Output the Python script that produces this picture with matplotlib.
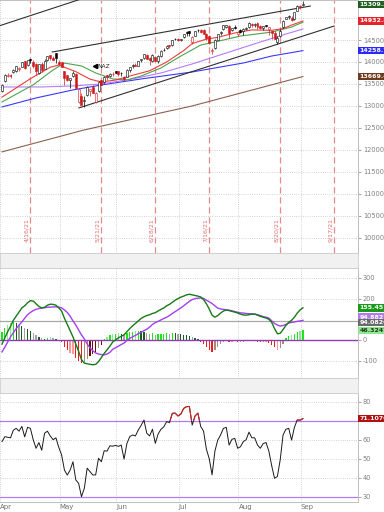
import numpy as np
import matplotlib.pyplot as plt
from matplotlib.patches import Rectangle
from matplotlib.transforms import blended_transform_factory

# daily bars, trading day index 0 = 4/1/21 ... 106 = 9/1/21
opens = [13340, 13560, 13690, 13690, 13780, 13800, 13850, 13890, 14020, 13930,
         14060, 14000, 13950, 13750, 13960, 13840, 14050, 14150, 14100, 14200,
         13990, 14000, 13800, 13700, 13580, 13680, 13730, 13100, 13220, 13110,
         13240, 13350, 13430, 13100, 13330, 13580, 13540, 13700, 13690, 13720,
         13790, 13790, 13750, 13650, 13660, 13810, 13910, 13940, 13920, 14040,
         14100, 14170, 14080, 14020, 14120, 14030, 14130, 14270, 14320, 14380,
         14380, 14520, 14510, 14500, 14560, 14680, 14700, 14450, 14600, 14730,
         14720, 14730, 14640, 14600, 14260, 14310, 14510, 14650, 14740, 14800,
         14820, 14730, 14780, 14630, 14730, 14700, 14760, 14790, 14860, 14840,
         14890, 14810, 14770, 14830, 14760, 14700, 14650, 14450, 14580, 14790,
         14980, 15020, 15010, 14980, 15160, 15270, 15290]
highs = [13490, 13720, 13760, 13730, 13830, 13900, 13890, 14000, 14030, 14040,
         14070, 14040, 13980, 13950, 14010, 14060, 14140, 14160, 14130, 14210,
         14050, 14010, 13800, 13710, 13640, 13790, 13740, 13400, 13290, 13230,
         13460, 13390, 13470, 13310, 13560, 13600, 13680, 13710, 13740, 13770,
         13800, 13790, 13780, 13680, 13830, 13890, 13950, 13970, 14030, 14070,
         14180, 14180, 14110, 14190, 14140, 14150, 14270, 14320, 14390, 14390,
         14510, 14540, 14540, 14530, 14640, 14700, 14700, 14600, 14710, 14740,
         14760, 14760, 14650, 14610, 14320, 14530, 14640, 14700, 14840, 14850,
         14830, 14780, 14830, 14700, 14760, 14770, 14800, 14900, 14880, 14880,
         14900, 14830, 14820, 14840, 14800, 14700, 14700, 14600, 14740, 14950,
         15030, 15060, 15050, 15140, 15290, 15290, 15380]
lows = [13320, 13540, 13660, 13640, 13740, 13770, 13790, 13880, 13850, 13920,
        13980, 13870, 13710, 13730, 13780, 13830, 14030, 14050, 14040, 13980,
        13950, 13880, 13480, 13560, 13400, 13660, 13400, 13060, 13020, 12973,
        13230, 13230, 13300, 13070, 13310, 13460, 13530, 13580, 13660, 13690,
        13740, 13690, 13690, 13570, 13650, 13770, 13860, 13900, 13900, 14000,
        14060, 14060, 13930, 14000, 14020, 13970, 14110, 14260, 14300, 14310,
        14370, 14490, 14480, 14470, 14540, 14580, 14600, 14420, 14590, 14680,
        14670, 14640, 14490, 14420, 14180, 14290, 14500, 14620, 14720, 14770,
        14540, 14700, 14750, 14590, 14660, 14610, 14730, 14780, 14800, 14800,
        14750, 14740, 14720, 14790, 14610, 14530, 14520, 14410, 14570, 14780,
        14970, 14980, 14940, 14960, 15160, 15210, 15280]
closes = [13480, 13706, 13698, 13689, 13829, 13900, 13850, 13996, 13858, 14039,
          14052, 13915, 13786, 13950, 13818, 14017, 14139, 14090, 14051, 14083,
          13963, 13895, 13634, 13582, 13633, 13752, 13402, 13389, 13032, 13125,
          13430, 13379, 13304, 13300, 13536, 13471, 13661, 13657, 13738, 13736,
          13749, 13736, 13756, 13615, 13814, 13882, 13925, 13912, 14020, 14069,
          14174, 14073, 14040, 14161, 14030, 14141, 14253, 14272, 14370, 14360,
          14501, 14528, 14504, 14522, 14639, 14664, 14665, 14560, 14702, 14733,
          14678, 14645, 14543, 14427, 14275, 14499, 14632, 14685, 14837, 14841,
          14661, 14763, 14778, 14673, 14681, 14761, 14781, 14895, 14836, 14860,
          14788, 14765, 14816, 14823, 14794, 14656, 14526, 14542, 14715, 14943,
          15020, 15042, 14946, 15130, 15266, 15259, 15309]

# moving averages: (day, value) knots
ma_red_x = [0, 10, 17, 20, 26, 31, 35, 40, 45, 52, 58, 64, 67, 72, 76, 82, 88, 95, 99, 102, 106]
ma_red_y = [13200, 13620, 13880, 13930, 13780, 13610, 13545, 13590, 13680, 13800, 14000,
            14260, 14420, 14520, 14560, 14660, 14730, 14720, 14760, 14840, 14932.8]
ma_green_x = [0, 11, 18, 22, 28, 33, 39, 44, 49, 56, 63, 70, 75, 84, 95, 102, 106]
ma_green_y = [13090, 13480, 13820, 13975, 13910, 13750, 13615, 13590, 13680, 13865, 14135,
              14385, 14455, 14590, 14680, 14795, 14905]
ma_purple_x = [0, 14, 25, 35, 46, 56, 67, 79, 91, 100, 106]
ma_purple_y = [13432, 13432, 13455, 13500, 13614, 13750, 13955, 14205, 14455, 14636, 14750]
ma_blue_x = [0, 12, 25, 35, 49, 67, 85, 95, 106]
ma_blue_y = [12977, 13182, 13364, 13477, 13614, 13773, 13977, 14136, 14258.7]
ma_brown_x = [0, 29, 67, 106]
ma_brown_y = [11955, 12455, 13000, 13669.4]

# drawn trendlines: (x0, y0, x1, y1)
trendlines = [(-2, 14800, 40, 15690),
              (17.7, 14227, 108.6, 15273),
              (27.1, 12955, 117, 14818)]

# option expiration markers
expiry_days = [10, 35, 54, 73, 98, 117]
expiry_labels = ['4/16/21', '5/21/21', '6/18/21', '7/16/21', '8/20/21', '9/17/21']

month_days = [-0.7, 20.3, 40.3, 62.3, 83.3, 105.3]
month_labels = ['Apr', 'May', 'Jun', 'Jul', 'Aug', 'Sep']

macd = [-20, 10, 40, 65, 95, 115, 135, 155, 165, 180,
        190, 188, 175, 162, 155, 158, 168, 173, 172, 168,
        155, 140, 105, 75, 45, 15, -20, -55, -95, -112,
        -115, -118, -120, -118, -105, -85, -65, -48, -30, -10,
        0, 10, 18, 25, 40, 55, 68, 80, 92, 104,
        112, 118, 122, 128, 132, 140, 148, 155, 165, 172,
        182, 192, 200, 207, 212, 218, 221, 218, 215, 212,
        208, 195, 175, 150, 120, 110, 118, 130, 140, 145,
        142, 138, 135, 130, 125, 121, 120, 122, 125, 125,
        120, 114, 110, 106, 100, 85, 55, 30, 32, 50,
        70, 85, 95, 110, 130, 145, 155.45]
signal = [-58, -35, -10, 15, 35, 55, 72, 87, 105, 122,
          133, 142, 148, 152, 154, 156, 158, 159, 160, 160,
          159, 155, 145, 133, 115, 92, 72, 48, 24, 5,
          -20, -38, -52, -63, -68, -71, -72, -68, -60, -45,
          -38, -30, -22, -15, -2, 8, 15, 22, 30, 37,
          45, 52, 62, 75, 84, 90, 97, 104, 110, 118,
          128, 137, 146, 155, 165, 176, 187, 195, 200, 202,
          203, 201, 192, 185, 176, 165, 154, 150, 148, 146,
          144, 141, 137, 134, 131, 130, 128, 127, 126, 125,
          122, 118, 113, 110, 106, 92, 80, 72, 67, 70,
          75, 82, 85, 87, 90, 92, 94.88]
hist = [40, 60, 72, 80, 85, 82, 72, 68, 60, 52,
        45, 35, 22, 12, 8, 6, 10, 12, 9, 5,
        -3, -12, -35, -50, -62, -70, -88, -100, -110, -108,
        -92, -80, -70, -58, -40, -22, 5, 15, 22, 28,
        30, 32, 30, 25, 32, 38, 40, 42, 43, 42,
        40, 35, 30, 32, 25, 28, 30, 30, 32, 30,
        33, 32, 30, 28, 26, 22, 18, 12, 8, 5,
        -8, -20, -35, -50, -58, -50, -35, -20, -10, -5,
        -8, -10, -6, -10, -12, -8, -5, -3, -4, -6,
        -10, -12, -8, -10, -14, -22, -35, -48, -40, -20,
        10, 18, 22, 30, 40, 44, 46.32]

rsi = [59, 61.6, 61.3, 61, 65, 66, 64.5, 67, 61.5, 66.5,
       66, 60, 55.5, 58.5, 54.5, 63.4, 64.5, 62, 60, 61,
       56, 52, 44, 41.4, 44, 48.4, 38.8, 37, 30, 34.4,
       45, 43.2, 41.4, 41.5, 50.2, 48.4, 54.2, 54, 56.8, 56.6,
       57, 56.5, 57.2, 49.8, 58, 61.6, 62.5, 62, 65.1, 67.5,
       70.3, 63.4, 62, 65.5, 58.1, 63, 65.5, 66.8, 69.5, 69,
       73.9, 74, 72.5, 73.5, 76.5, 77.4, 77.5, 67.7, 72.5, 74,
       67, 64.5, 55, 50, 41.5, 54, 59.8, 62.5, 66, 66.5,
       57.2, 60.2, 60.7, 55.5, 56.3, 59, 60, 64, 61, 61,
       57.2, 55.5, 58, 58.5, 54, 46.3, 39.7, 40.6, 49.4, 62.5,
       65.5, 66, 59.8, 66.5, 70.4, 70.3, 71.1]

days = np.arange(len(closes))
XLIM = (0.2, 125.4)
GRID = dict(ls=':', color='#c4c4c4', lw=0.6)
SPINE = '#c0c0c0'


def style_panel(ax, yticks, ylim, hidden=()):
    ax.set_xlim(*XLIM)
    ax.set_ylim(*ylim)
    ax.yaxis.tick_right()
    ax.set_yticks(yticks)
    # tick labels that sit under a value box are left blank, as on the original
    ax.set_yticklabels(['' if t in hidden else str(t) for t in yticks])
    ax.set_xticks(month_days)
    ax.tick_params(axis='y', labelsize=4.8, colors='#808080', length=2, pad=1.5, width=0.5)
    ax.tick_params(axis='x', labelbottom=False, length=0)
    ax.grid(True, **GRID)
    for s in ax.spines.values():
        s.set_color(SPINE)
        s.set_linewidth(0.7)
    ax.spines['left'].set_visible(False)


def value_box(ax, y, text, bg, fg='white'):
    tr = blended_transform_factory(ax.transAxes, ax.transData)
    ax.text(1.004, y, text, transform=tr, fontsize=4.5, color=fg, ha='left', va='center',
            fontweight='bold', clip_on=False, zorder=10,
            bbox=dict(boxstyle='square,pad=0.2', fc=bg, ec='none'))


fig = plt.figure(figsize=(3.84, 5.12), dpi=100)
fig.patch.set_facecolor('white')
W = 358 / 384
ax1 = fig.add_axes([0, 1 - 253 / 512, W, 253 / 512])
ax2 = fig.add_axes([0, 1 - 378 / 512, W, 110 / 512])
ax3 = fig.add_axes([0, 1 - 502 / 512, W, 109 / 512])

# grey header strips between panels
for top, bot in ((253, 268), (378, 393)):
    fig.patches.append(Rectangle((0, 1 - bot / 512), W, (bot - top) / 512, transform=fig.transFigure,
                                 fc='#f1f1f1', ec='#cfcfcf', lw=0.6, zorder=0))

# ---- price panel ----
style_panel(ax1, list(range(10000, 15001, 500)), (9655, 15410), hidden=(15000,))

for d, lab in zip(expiry_days, expiry_labels):
    ax1.axvline(d, color='#e58a8a', ls=(0, (5, 3)), lw=0.9, zorder=1)
    ax1.text(d - 0.5, 9915, lab, rotation=90, ha='right', va='bottom', fontsize=4.5, color='#e07070')

ax1.plot(ma_brown_x, ma_brown_y, color='#8c6050', lw=0.8, zorder=2)
ax1.plot(ma_blue_x, ma_blue_y, color='#3a3aff', lw=0.8, zorder=2)
ax1.plot(ma_purple_x, ma_purple_y, color='#b57cf5', lw=0.8, zorder=2)
ax1.plot(ma_green_x, ma_green_y, color='#4ea24e', lw=0.8, zorder=2)
ax1.plot(ma_red_x, ma_red_y, color='#ee3b3b', lw=0.8, zorder=2)

for x0, y0, x1, y1 in trendlines:
    ax1.plot([x0, x1], [y0, y1], color='#303030', lw=0.8, zorder=3)

o = np.array(opens); h = np.array(highs); l = np.array(lows); c = np.array(closes)
prev = np.r_[o[0], c[:-1]]
col = np.where(c >= prev, '#000000', '#d01818')
face = [cc if cl < op else 'white' for cc, cl, op in zip(col, c, o)]
ax1.vlines(days, l, h, colors=col, lw=0.5, zorder=4)
ax1.bar(days, np.maximum(np.abs(c - o), 8), bottom=np.minimum(c, o), width=0.7,
        color=face, edgecolor=col, linewidth=0.4, zorder=5)

ax1.plot([32.6], [13910], marker='<', color='black', ms=3, zorder=6)
ax1.text(33.6, 13905, 'NAZ', fontsize=4.3, color='#202020', va='center', ha='left', zorder=6)

value_box(ax1, 15309.3, '15309.3', '#1f5f1f')
value_box(ax1, 14932.8, '14932.8', '#e3242b')
value_box(ax1, 14258.7, '14258.7', '#2a2aff')
value_box(ax1, 13669.4, '13669.4', '#6e3b1e')

# ---- MACD panel ----
style_panel(ax2, [-100, 0, 200, 300], (-184, 348))
ax2.axhline(94, color='#a8a8a8', lw=0.9, zorder=1)
hcol = []
for k, hv in enumerate(hist):
    hp = hist[k - 1] if k else hv
    up = closes[k] >= closes[k - 1] if k else True
    if hv >= 0:
        hcol.append(('#19e619' if up else '#8de88d') if hv >= hp else ('#1d5a1d' if up else '#a3a3a3'))
    else:
        hcol.append(('#f01c1c' if not up else '#f59b9b') if hv < hp else ('#6e0a0a' if not up else '#a88a80'))
ax2.bar(days, hist, width=0.45, color=hcol, zorder=2)
ax2.axhline(0, color='#8a3fb0', lw=1.0, zorder=3)
ax2.plot(days, signal, color='#a23ff0', lw=1.0, zorder=4)
ax2.plot(days, macd, color='#177a17', lw=1.0, zorder=5)
value_box(ax2, 155.45, '155.45', '#1a9a1a')
value_box(ax2, 110.0, '94.882', '#b07ae8')
value_box(ax2, 84.0, '94.0826', '#6b6b6b')
value_box(ax2, 46.32, '46.3247', '#8fe88f', fg='#1e3a1e')

# ---- RSI panel ----
style_panel(ax3, [30, 40, 50, 60, 70, 80], (27.2, 84.6), hidden=(70,))
ax3.axhline(70, color='#b07cf2', lw=0.9, zorder=2)
ax3.axhline(30, color='#b07cf2', lw=0.9, zorder=2)
ax3.plot(days, rsi, color='#1a1a1a', lw=0.7, zorder=3)
for colr, lo, hi in (('#d02525', 70, 100), ('#239a23', 0, 30)):
    ln, = ax3.plot(days, rsi, color=colr, lw=0.8, zorder=4)
    ln.set_clip_path(Rectangle((-10, lo), 200, hi - lo, transform=ax3.transData))
value_box(ax3, 71.1076, '71.1076', '#b01010')

ax3.set_xticks(month_days)
ax3.set_xticklabels(month_labels)
ax3.tick_params(axis='x', labelbottom=True, labelsize=5, colors='#707070', pad=1.5)
for t in ax3.get_xticklabels():
    t.set_ha('left')

fig.savefig('out.png', dpi=100)
